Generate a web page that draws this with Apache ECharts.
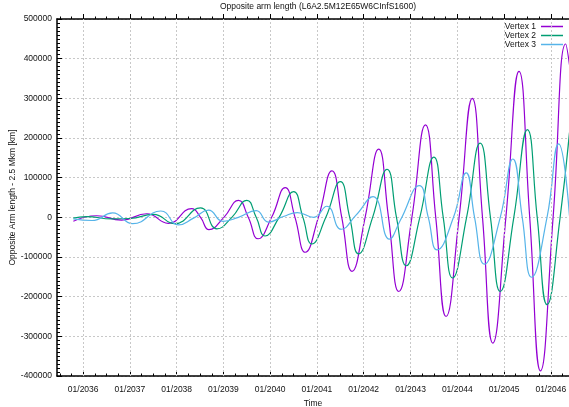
<!DOCTYPE html>
<html>
<head>
<meta charset="utf-8">
<script src="https://cdn.jsdelivr.net/npm/echarts@6/dist/echarts.min.js"></script>
<style>
html, body { margin: 0; padding: 0; background: #fff; }
#chart { width: 569px; height: 407px; }
</style>
</head>
<body>
<div id="chart"></div>
<script>
// tick years on the time axis (labels are 01/<year>)
var tickYears = [2036, 2037, 2038, 2039, 2040, 2041, 2042, 2043, 2044, 2045, 2046];
var seriesNames = ['Vertex 1', 'Vertex 2', 'Vertex 3'];

// [decimal year, km]
var vertex1 = [
    [2035.79, -10000], [2036.29, 4000], [2036.82, -7000], [2037.36, 9000],
    [2037.82, -15000], [2038.32, 22000], [2038.51, 0], [2038.69, -31000],
    [2039.01, 0], [2039.32, 43000], [2039.53, 0], [2039.74, -54000],
    [2040.03, 0], [2040.32, 75000], [2040.53, 0], [2040.75, -88000],
    [2041.03, 0], [2041.32, 117000], [2041.53, 0], [2041.75, -136000],
    [2042.03, 0], [2042.32, 172000], [2042.53, 0], [2042.75, -187000],
    [2043.03, 0], [2043.32, 233000], [2043.54, 0], [2043.76, -250000],
    [2044.04, 0], [2044.32, 300000], [2044.54, 0], [2044.76, -317000],
    [2045.04, 0], [2045.32, 368000], [2045.55, 0], [2045.78, -387000],
    [2046.05, 0], [2046.32, 437000], [2046.40, 385000]
];
var vertex2 = [
    [2035.79, -2000], [2036.06, 2000], [2036.62, -4000], [2037.00, -3000],
    [2037.50, 7500], [2037.96, -16000], [2038.51, 24000], [2038.86, -29000],
    [2039.18, 0], [2039.50, 43000], [2039.70, 0], [2039.89, -47000],
    [2040.19, 0], [2040.50, 65000], [2040.70, 0], [2040.89, -67000],
    [2041.19, 0], [2041.50, 90000], [2041.70, 0], [2041.89, -92000],
    [2042.19, 0], [2042.50, 121000], [2042.70, 0], [2042.91, -122000],
    [2043.20, 0], [2043.50, 152000], [2043.70, 0], [2043.90, -153000],
    [2044.20, 0], [2044.49, 187000], [2044.71, 0], [2044.92, -187000],
    [2045.21, 0], [2045.50, 221000], [2045.71, 0], [2045.92, -220000],
    [2046.20, 0], [2046.40, 214000]
];
var vertex3 = [
    [2035.79, -4000], [2036.19, -8000], [2036.63, 11000], [2037.06, -16000],
    [2037.66, 16000], [2038.04, -19000], [2038.36, -2000], [2038.68, 18000],
    [2038.99, -10000], [2039.32, 0], [2039.70, 17000], [2039.96, -12000],
    [2040.28, 2000], [2040.58, 12000], [2040.93, 0], [2041.21, 28000],
    [2041.52, -30000], [2041.83, 5000], [2042.20, 52000], [2042.55, -55000],
    [2042.78, -8000], [2043.19, 80000], [2043.38, 0], [2043.57, -82000],
    [2043.92, 0], [2044.19, 112000], [2044.37, 0], [2044.58, -118000],
    [2044.92, 0], [2045.19, 147000], [2045.39, 0], [2045.59, -151000],
    [2045.92, 0], [2046.17, 185000], [2046.40, 4000]
];
var seriesData = [vertex1, vertex2, vertex3];
var colors = ['#9400d3', '#009e73', '#56b4e9'];

var xMin = 2035.44, xMax = 2046.39;
var font = 'Liberation Sans, Arial, sans-serif';

// quarter ticks between the yearly ticks
var quarterTicks = [];
for (var y = 2035; y <= 2046; y++) {
    [0.25, 0.5, 0.75].forEach(function (q) {
        if (y + q > xMin && y + q < xMax) quarterTicks.push(y + q);
    });
}

var chart = echarts.init(document.getElementById('chart'));
var gridStyle = { color: '#c8c8c8', width: 1, type: [2, 2] };

function timeAxis(pos, ticks, len, inside, main) {
    return {
        type: 'value', position: pos, min: xMin, max: xMax,
        axisLine: { show: main, onZero: false, lineStyle: { color: '#000', width: 1.5 } },
        axisTick: { show: true, customValues: ticks, inside: inside, length: len,
                    lineStyle: { color: '#000', width: 1 } },
        axisLabel: { show: main && pos === 'bottom', customValues: ticks, margin: 9,
                     fontSize: 8.5, fontFamily: font, color: '#111',
                     formatter: function (v) { return '01/' + v; } },
        splitLine: { show: false },
        name: main && pos === 'bottom' ? 'Time' : '',
        nameLocation: 'middle', nameGap: 17,
        nameTextStyle: { fontSize: 8.5, fontFamily: font, color: '#111' }
    };
}

// yearly vertical grid lines
var gridSeries = {
    name: 'grid', type: 'line', data: [], z: 1, silent: true,
    markLine: {
        silent: true, symbol: 'none', animation: false,
        label: { show: false },
        lineStyle: gridStyle,
        data: tickYears.map(function (yr) { return { xAxis: yr }; })
    }
};

var option = {
    animation: false,
    color: colors,
    title: {
        text: 'Opposite arm length (L6A2.5M12E65W6CInfS1600)',
        left: 220, top: 2, padding: 0,
        textStyle: { fontSize: 8.5, fontWeight: 'normal', fontFamily: font, color: '#111' }
    },
    legend: {
        data: seriesNames,
        orient: 'vertical', right: 6, top: 22, align: 'right', padding: 0,
        icon: 'rect', itemWidth: 22, itemHeight: 1.5, itemGap: 0,
        textStyle: { fontSize: 8.5, fontFamily: font, color: '#111', lineHeight: 8.5 }
    },
    grid: { left: 57, right: 0, top: 19, bottom: 31, containLabel: false, outerBoundsMode: 'none' },
    xAxis: [
        timeAxis('bottom', tickYears, 5, true, true),
        timeAxis('bottom', quarterTicks, 2.5, true, false),
        timeAxis('top', tickYears, 5, false, true),
        timeAxis('top', quarterTicks, 2.5, false, false)
    ],
    yAxis: {
        type: 'value', min: -400000, max: 500000, interval: 100000,
        axisLine: { show: true, onZero: false, lineStyle: { color: '#000', width: 1.5 } },
        axisTick: { show: true, inside: true, length: 5, lineStyle: { color: '#000' } },
        minorTick: { show: true, splitNumber: 10, length: 3, lineStyle: { color: '#000' } },
        axisLabel: { margin: 5, fontSize: 8.5, fontFamily: font, color: '#111',
                     formatter: function (v) { return String(v); } },
        splitLine: { show: true, lineStyle: gridStyle },
        name: 'Opposite Arm length - 2.5 Mkm [km]',
        nameLocation: 'middle', nameGap: 40, nameRotate: 90, nameMoveOverlap: false,
        nameTextStyle: { fontSize: 8.5, fontFamily: font, color: '#111' }
    },
    series: seriesNames.map(function (name, i) {
        return {
            name: name, type: 'line', data: seriesData[i], z: 2,
            symbol: 'none', smooth: 0.5,
            itemStyle: { color: colors[i] },
            lineStyle: { width: 1.2, color: colors[i] }
        };
    }).concat([gridSeries])
};
chart.setOption(option);
</script>
</body>
</html>
